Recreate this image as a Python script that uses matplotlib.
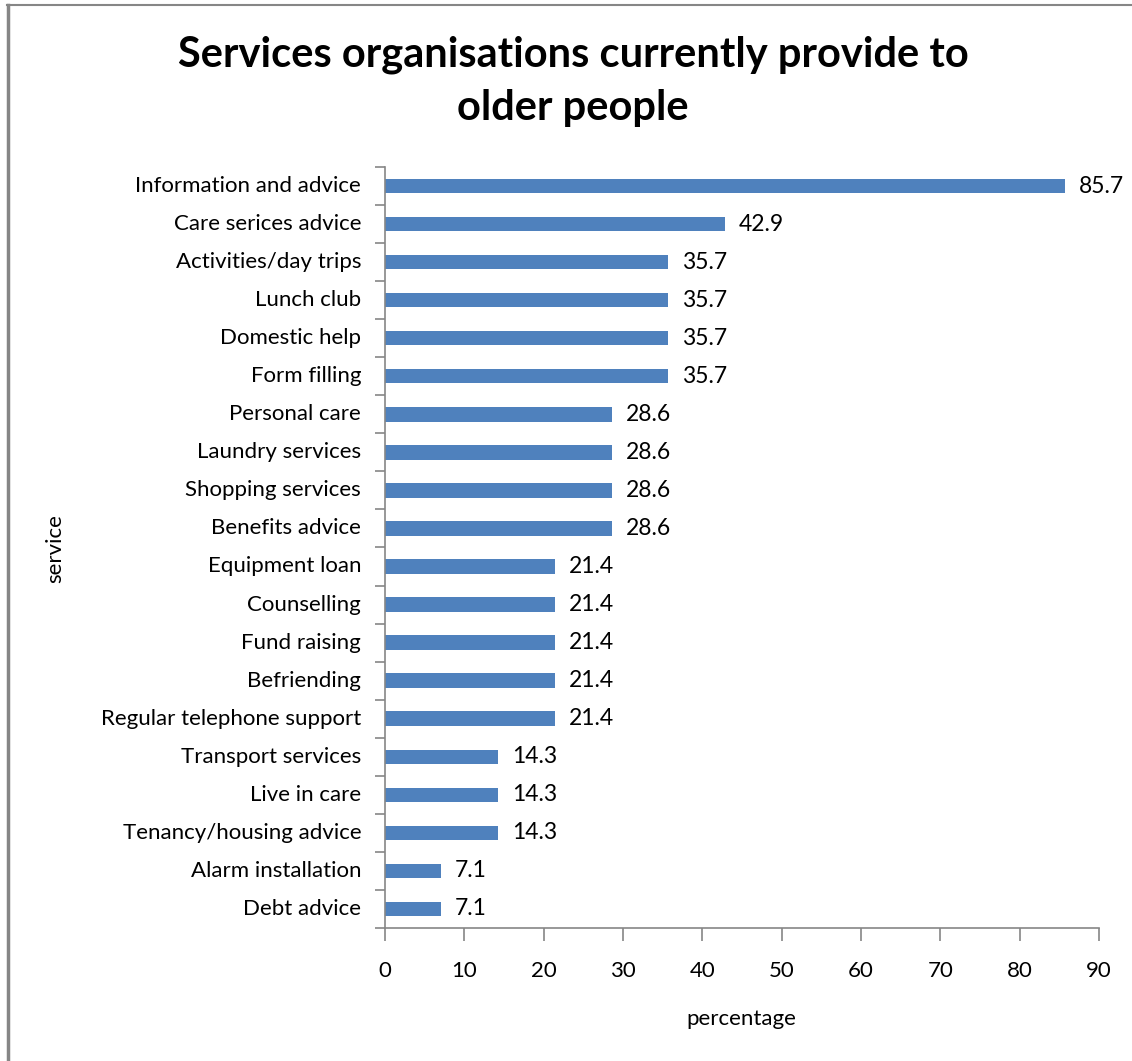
import matplotlib.pyplot as plt
from matplotlib.lines import Line2D

plt.rcParams['font.family'] = ['Lato', 'DejaVu Sans']

services = [
    "Information and advice", "Care serices advice", "Activities/day trips",
    "Lunch club", "Domestic help", "Form filling", "Personal care",
    "Laundry services", "Shopping services", "Benefits advice",
    "Equipment loan", "Counselling", "Fund raising", "Befriending",
    "Regular telephone support", "Transport services", "Live in care",
    "Tenancy/housing advice", "Alarm installation", "Debt advice",
]
percentages = [85.7, 42.9, 35.7, 35.7, 35.7, 35.7, 28.6, 28.6, 28.6, 28.6,
               21.4, 21.4, 21.4, 21.4, 21.4, 14.3, 14.3, 14.3, 7.1, 7.1]
x_ticks = [0, 10, 20, 30, 40, 50, 60, 70, 80, 90]

bar_color = '#4f81bd'
axis_color = '#868686'

fig = plt.figure(figsize=(11.32, 10.61), dpi=100)
ax = fig.add_axes([0.3401, 0.1254, 0.6307, 0.7172])

n = len(services)
ypos = list(range(n))[::-1]
ax.barh(ypos, percentages, height=0.38, color=bar_color)

for y, v in zip(ypos, percentages):
    ax.text(v + 1.75, y, f"{v:.1f}", va='center', ha='left', fontsize=16.5, color='black')

ax.set_xlim(0, 90)
ax.set_ylim(-0.5, n - 0.5)
ax.set_xticks(x_ticks)
ax.set_xticklabels([str(t) for t in x_ticks], fontsize=16)
ax.tick_params(axis='x', direction='out', length=9, width=1.2, color=axis_color, pad=15)

# category labels sit between the tick marks, ticks on boundaries
ax.set_yticks([i - 0.5 for i in range(n + 1)])
ax.set_yticklabels([])
ax.tick_params(axis='y', direction='out', length=7, width=1.2, color=axis_color)
for y, name in zip(ypos, services):
    ax.text(-3.0, y, name, ha='right', va='center', fontsize=16,
            transform=ax.transData)

for side in ['top', 'right']:
    ax.spines[side].set_visible(False)
for side in ['left', 'bottom']:
    ax.spines[side].set_color(axis_color)
    ax.spines[side].set_linewidth(1.2)

fig.text(0.5062, 0.9481, "Services organisations currently provide to",
         ha='center', va='center', fontsize=30, fontweight='bold')
fig.text(0.5062, 0.8982, "older people",
         ha='center', va='center', fontsize=30, fontweight='bold')
fig.text(0.0486, 0.4830, "service", rotation=90, ha='center', va='center', fontsize=16)
fig.text(0.6546, 0.0396, "percentage", ha='center', va='center', fontsize=16)

# outer frame: thin top edge and thicker left edge
fig.add_artist(Line2D([0.0062, 1.0], [0.9953, 0.9953], color=axis_color, lw=1.5,
                      transform=fig.transFigure))
fig.add_artist(Line2D([0.0071, 0.0071], [0.0, 0.9953], color=axis_color, lw=2.5,
                      transform=fig.transFigure))

fig.savefig('out.png', dpi=100)
